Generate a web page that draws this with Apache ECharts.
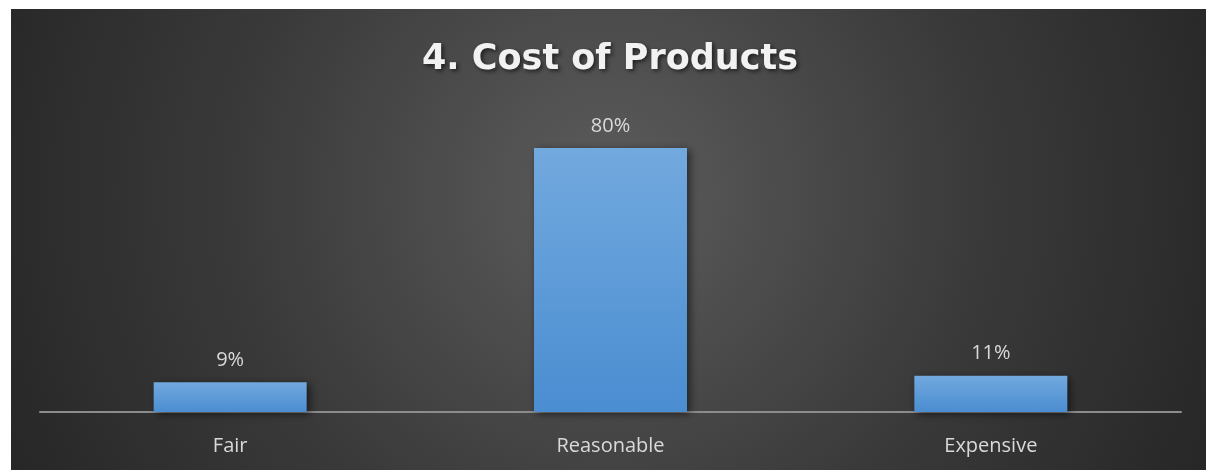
<!DOCTYPE html>
<html>
<head>
<meta charset="utf-8">
<style>
  html, body { margin: 0; padding: 0; background: #ffffff; }
  #chart { width: 1206px; height: 470px; }
</style>
<script src="https://cdn.jsdelivr.net/npm/echarts@6/dist/echarts.min.js"></script>
</head>
<body>
<div id="chart"></div>
<script>
// Survey answers: how customers rate the cost of products (share of responses, %)
const categories = ['Fair', 'Reasonable', 'Expensive'];
const shares = [9, 80, 11];
const chartTitle = '4. Cost of Products';

const chart = echarts.init(document.getElementById('chart'));

const barGradient = new echarts.graphic.LinearGradient(0, 0, 0, 1, [
  { offset: 0, color: '#72a9de' },
  { offset: 1, color: '#4a8dd1' }
]);

chart.setOption({
  animation: false,
  backgroundColor: '#ffffff',
  graphic: [{
    type: 'rect',
    z: -10,
    silent: true,
    shape: { x: 11, y: 9, width: 1195, height: 461 },
    style: {
      fill: new echarts.graphic.RadialGradient(0.5, 0.4, 1.45, [
        { offset: 0, color: '#5c5c5c' },
        { offset: 0.55, color: '#3a3a3a' },
        { offset: 1, color: '#262626' }
      ])
    }
  }],
  title: {
    text: chartTitle,
    left: 417,
    top: 37,
    textStyle: {
      fontFamily: 'DejaVu Sans',
      fontWeight: 'bold',
      fontSize: 35,
      color: '#f2f2f2',
      textShadowColor: 'rgba(0,0,0,0.6)',
      textShadowBlur: 4,
      textShadowOffsetX: 2,
      textShadowOffsetY: 2
    }
  },
  grid: { left: 40, right: 25, top: 82, bottom: 58, containLabel: false },
  xAxis: {
    type: 'category',
    data: categories,
    axisLine: { show: true, lineStyle: { color: '#8c8c8c', width: 2 } },
    axisTick: { show: false },
    axisLabel: {
      color: '#d9d9d9',
      fontFamily: 'Open Sans',
      fontSize: 20,
      margin: 24
    }
  },
  yAxis: {
    type: 'value',
    min: 0,
    max: 100,
    show: false,
    splitLine: { show: false }
  },
  series: [{
    type: 'bar',
    data: shares,
    barWidth: 153,
    itemStyle: {
      color: barGradient,
      shadowColor: 'rgba(0,0,0,0.55)',
      shadowBlur: 8,
      shadowOffsetX: 3,
      shadowOffsetY: 2
    },
    label: {
      show: true,
      position: 'top',
      distance: 12,
      formatter: '{c}%',
      color: '#d9d9d9',
      fontFamily: 'Open Sans',
      fontSize: 20
    }
  }]
});
</script>
</body>
</html>
